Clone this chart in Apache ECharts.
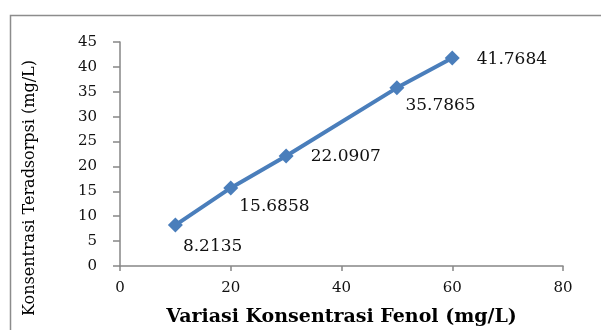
<!DOCTYPE html>
<html>
<head>
<meta charset="utf-8">
<script src="https://cdn.jsdelivr.net/npm/echarts@6/dist/echarts.min.js"></script>
<style>
  html, body { margin: 0; padding: 0; background: #fff; }
  #chart { width: 601px; height: 330px; }
</style>
</head>
<body>
<div id="chart"></div>
<script>
  // data
  const fenol = [10, 20, 30, 50, 60];
  const teradsorpsi = [8.2135, 15.6858, 22.0907, 35.7865, 41.7684];

  // label placement per point: [distance to the right, shift down]
  const labelPlace = [[0, 21], [1, 19], [17, 1], [1, 18], [17, 1]];

  const serif = 'DejaVu Serif';
  const axisGray = '#868686';

  const chart = echarts.init(document.getElementById('chart'));
  const option = {
    animation: false,
    backgroundColor: '#fff',
    graphic: [{
      type: 'rect',
      left: 8, top: 13,
      shape: { width: 640, height: 360 },
      style: { fill: 'none', stroke: '#8c8c8c', lineWidth: 1.5 },
      silent: true
    }],
    grid: { left: 120, right: 38, top: 42, bottom: 64, outerBoundsMode: 'none' },
    xAxis: {
      type: 'value',
      min: 0, max: 80, interval: 20,
      name: 'Variasi Konsentrasi Fenol (mg/L)',
      nameLocation: 'middle',
      nameGap: 42,
      nameTextStyle: { fontFamily: serif, fontSize: 19, fontWeight: 'bold', color: '#000' },
      axisLine: { lineStyle: { color: axisGray, width: 1.5 } },
      axisTick: { show: true, length: 5, lineStyle: { color: axisGray, width: 1.5 } },
      axisLabel: { fontFamily: serif, fontSize: 15, color: '#111', margin: 15 },
      splitLine: { show: false }
    },
    yAxis: {
      type: 'value',
      min: 0, max: 45, interval: 5,
      name: 'Konsentrasi Teradsorpsi (mg/L)',
      nameLocation: 'middle',
      nameGap: 82,
      nameTextStyle: { fontFamily: serif, fontSize: 16, color: '#000', padding: [0, 68, 0, 0] },
      axisLine: { show: true, lineStyle: { color: axisGray, width: 1.5 } },
      axisTick: { show: true, length: 7, lineStyle: { color: axisGray, width: 1.5 } },
      axisLabel: { fontFamily: serif, fontSize: 15, color: '#111', margin: 23 },
      splitLine: { show: false }
    },
    series: [{
      type: 'line',
      data: fenol.map(function (x, i) {
        return {
          value: [x, teradsorpsi[i]],
          label: { distance: labelPlace[i][0], offset: [0, labelPlace[i][1]] }
        };
      }),
      symbol: 'diamond',
      symbolSize: 15,
      lineStyle: { color: '#4a7ebb', width: 4 },
      itemStyle: { color: '#4a7ebb' },
      label: {
        show: true,
        position: 'right',
        fontFamily: serif,
        fontSize: 17,
        color: '#111',
        formatter: function (p) { return p.value[1].toFixed(4); }
      }
    }]
  };
  chart.setOption(option);
</script>
</body>
</html>
